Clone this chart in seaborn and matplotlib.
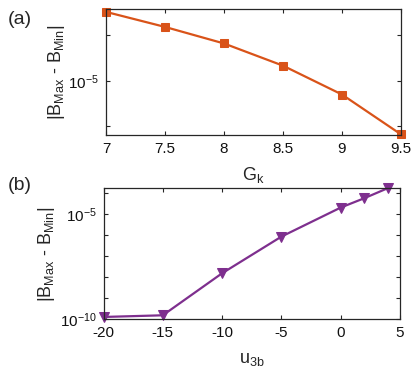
import matplotlib
matplotlib.use("Agg")
import matplotlib.pyplot as plt
import seaborn as sns
import numpy as np
import pandas as pd

# ---- data ----
gk = [7.0, 7.5, 8.0, 8.5, 9.0, 9.5]
diff_gk = [2.87e-5, 2.28e-5, 1.77e-5, 1.26e-5, 8.1e-6, 4.4e-6]

u3b = [-20, -15, -10, -5, 0, 2, 4]
diff_u3b = [1.25e-10, 1.5e-10, 1.5e-8, 8.3e-7, 2.0e-5, 5.6e-5, 1.7e-4]

xticks_a = [7, 7.5, 8, 8.5, 9, 9.5]
xticklabels_a = ["7", "7.5", "8", "8.5", "9", "9.5"]
yticks_a = [5e-6, 1e-5, 2e-5]
yticklabels_a = ["", "$10^{-5}$", ""]

xticks_b = [-20, -15, -10, -5, 0, 5]
xticklabels_b = ["-20", "-15", "-10", "-5", "0", "5"]
yticks_b = [1e-10, 1e-9, 1e-8, 1e-7, 1e-6, 1e-5, 1e-4]
yticklabels_b = ["$10^{-10}$", "", "", "", "", "$10^{-5}$", ""]

sns.set_theme(style="white")
plt.rcParams["font.family"] = ["Liberation Sans", "DejaVu Sans"]
plt.rcParams["mathtext.default"] = "regular"
plt.rcParams["axes.unicode_minus"] = False

fig = plt.figure(figsize=(4.15, 3.8), dpi=100)
W, H = 415, 380

def add_ax(l, r, t, b):
    return fig.add_axes([l / W, 1 - b / H, (r - l) / W, (b - t) / H])

ax1 = add_ax(106, 401, 9, 135)
ax2 = add_ax(103.5, 400, 187.5, 319)

df1 = pd.DataFrame({"G": gk, "D": diff_gk})
df2 = pd.DataFrame({"u": u3b, "D": diff_u3b})

sns.lineplot(data=df1, x="G", y="D", ax=ax1, color="#D95319", marker="s",
             markersize=6, markeredgecolor="#D95319", linewidth=1.6, clip_on=False)
sns.lineplot(data=df2, x="u", y="D", ax=ax2, color="#7E2F8E", marker="v",
             markersize=7.5, markeredgecolor="#7E2F8E", linewidth=1.6, clip_on=False)

frame = "#262626"
for ax in (ax1, ax2):
    ax.set_yscale("log")
    for s in ax.spines.values():
        s.set_color(frame)
        s.set_linewidth(0.9)
    ax.tick_params(axis="both", which="major", direction="in", length=3,
                   width=0.8, color=frame, labelsize=11, labelcolor="#111111",
                   top=True, right=True, bottom=True, left=True)
    ax.tick_params(axis="x", pad=5)
    ax.tick_params(axis="y", pad=5)
    ax.minorticks_off()
    ax.grid(False)

ax1.set_xlim(7, 9.5)
ax1.set_ylim(4.36e-6, 3.0e-5)
ax1.set_xticks(xticks_a)
ax1.set_xticklabels(xticklabels_a)
ax1.set_yticks(yticks_a)
ax1.set_yticklabels(yticklabels_a)
ax1.minorticks_off()
ax1.set_xlabel("G$_k$", fontsize=13)
ax1.set_ylabel("|B$_{Max}$ - B$_{Min}$|", fontsize=13)
ax1.yaxis.set_label_coords(-0.132, 0.5)
ax1.xaxis.set_label_coords(0.5, -0.235)

ax2.set_xlim(-20, 5)
ax2.set_ylim(1e-10, 1.8e-4)
ax2.set_xticks(xticks_b)
ax2.set_xticklabels(xticklabels_b)
ax2.set_yticks(yticks_b)
ax2.set_yticklabels(yticklabels_b)
ax2.minorticks_off()
ax2.set_xlabel("u$_{3b}$", fontsize=13)
ax2.set_ylabel("|B$_{Max}$ - B$_{Min}$|", fontsize=13)
ax2.yaxis.set_label_coords(-0.157, 0.49)
ax2.xaxis.set_label_coords(0.5, -0.245)

fig.text(19.5 / W, 1 - 19 / H, "(a)", fontsize=14, ha="center", va="center")
fig.text(20 / W, 1 - 186 / H, "(b)", fontsize=14, ha="center", va="center")

fig.savefig("out.png", dpi=100)
